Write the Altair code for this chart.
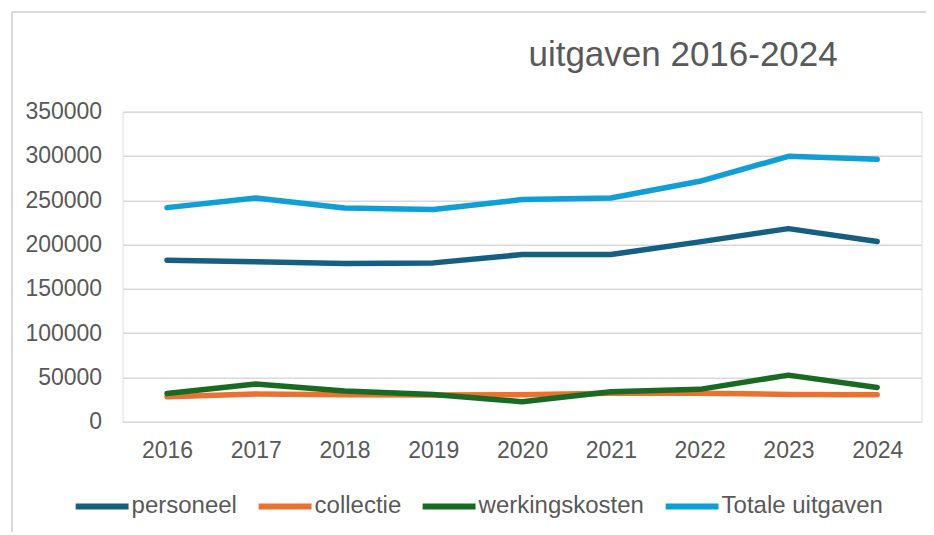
import altair as alt
import pandas as pd

years = ["2016", "2017", "2018", "2019", "2020", "2021", "2022", "2023", "2024"]
personeel = [182300, 180500, 178600, 179300, 188700, 188700, 203000, 218000, 203400]
collectie = [28200, 31200, 30500, 30000, 30500, 32000, 32000, 30800, 30500]
werkingskosten = [31900, 42500, 34600, 30800, 22600, 33800, 36500, 52600, 38700]
totale = [241700, 252600, 241300, 239500, 250800, 252600, 271400, 299600, 296200]

series_names = ["personeel", "collectie", "werkingskosten", "Totale uitgaven"]
series_colors = ["#156082", "#E97132", "#196B24", "#0F9ED5"]
y_ticks = [0, 50000, 100000, 150000, 200000, 250000, 300000, 350000]

rows = []
for name, vals in zip(series_names, [personeel, collectie, werkingskosten, totale]):
    for yr, v in zip(years, vals):
        rows.append({"jaar": yr, "waarde": v, "reeks": name})
df = pd.DataFrame(rows)

FONT = "Liberation Sans"
GREY = "#595959"

lines = alt.Chart(df).mark_line(strokeWidth=5.5, strokeCap="round", strokeJoin="round").encode(
    x=alt.X("jaar:O", sort=years, title=None,
            axis=alt.Axis(labelAngle=0, domain=False, ticks=False, labelPadding=18,
                          labelFontSize=23, labelColor=GREY, labelFont=FONT, grid=False)),
    y=alt.Y("waarde:Q", title=None, scale=alt.Scale(domain=[0, 350000], nice=False),
            axis=alt.Axis(values=y_ticks, format="d", domain=False, ticks=False, labelPadding=21,
                          labelFontSize=23, labelColor=GREY, labelFont=FONT,
                          gridColor="#d9d9d9", gridWidth=1.5)),
    color=alt.Color("reeks:N", title=None,
                    scale=alt.Scale(domain=series_names, range=series_colors),
                    legend=alt.Legend(orient="none", legendX=-50, legendY=365, direction="horizontal",
                                      symbolType="stroke", symbolSize=2800, symbolStrokeWidth=6,
                                      labelFontSize=24, labelColor=GREY, labelFont=FONT,
                                      labelLimit=400,
                                      labelOffset=0, columnPadding=9, padding=0)),
)

frame_left = alt.Chart(df).mark_rule(color="#d9d9d9", strokeWidth=1.5).encode(
    x=alt.value(-110.6), y=alt.value(-99.7), y2=alt.value(430))
frame_top = alt.Chart(df).mark_rule(color="#d9d9d9", strokeWidth=1.5).encode(
    x=alt.value(-110.6), x2=alt.value(830), y=alt.value(-99.7))

chart = alt.layer(frame_left, frame_top, lines).properties(
    width=799, height=310,
    padding={"left": 114.6, "top": 103.7, "right": 4, "bottom": 110},
    autosize=alt.AutoSizeParams(type="none"),
    title=alt.TitleParams("uitgaven 2016-2024", font=FONT, fontSize=35, fontWeight="normal",
                          color=GREY, anchor="middle", dx=161, dy=66),
).configure_view(stroke=None).configure(background="white")

chart.save("out.html", embed_options={"renderer": "svg", "actions": False})
